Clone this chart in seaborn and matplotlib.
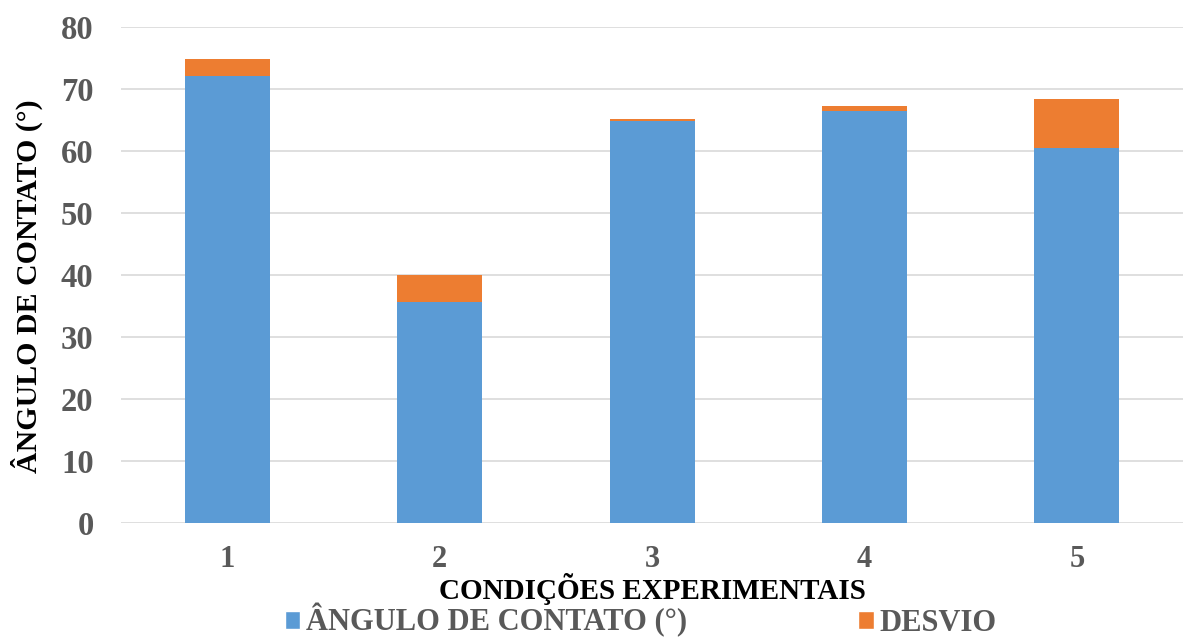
import matplotlib
matplotlib.use("Agg")
import matplotlib.pyplot as plt
import seaborn as sns
import pandas as pd
from matplotlib.patches import Patch

# Contact angle per experimental condition and its deviation
condicoes = ["1", "2", "3", "4", "5"]
angulo = [72.1, 35.6, 64.8, 66.5, 60.5]
desvio = [2.7, 4.4, 0.3, 0.8, 7.9]
yticks = [0, 10, 20, 30, 40, 50, 60, 70, 80]

AZUL = "#5B9BD5"
LARANJA = "#ED7D31"
CINZA = "#595959"

sns.set_theme(style="white")
plt.rcParams["font.family"] = ["Liberation Serif", "DejaVu Serif"]
plt.rcParams["font.weight"] = "bold"

df = pd.DataFrame({
    "cond": condicoes,
    "angulo": angulo,
    "total": [a + d for a, d in zip(angulo, desvio)],
})

fig = plt.figure(figsize=(11.89, 6.39), dpi=100)
ax = fig.add_axes([0.102, 0.1815, 0.893, 0.7765])

# stacked bars: full height in orange, angle part in blue on top of it
sns.barplot(data=df, x="cond", y="total", color=LARANJA, width=0.4,
            saturation=1, ax=ax, zorder=3)
sns.barplot(data=df, x="cond", y="angulo", color=AZUL, width=0.4,
            saturation=1, ax=ax, zorder=4)
for p in ax.patches:
    p.set_edgecolor("none")

ax.set_ylim(0, 80)
ax.set_xlim(-0.5, 4.5)
ax.set_yticks(yticks)
ax.yaxis.grid(True, color="#d9d9d9", linewidth=1.2, zorder=0)
ax.xaxis.grid(False)
for s in ax.spines.values():
    s.set_visible(False)
ax.tick_params(axis="both", length=0, colors=CINZA)
ax.tick_params(axis="y", pad=20, labelsize=23.5)
ax.tick_params(axis="x", pad=16, labelsize=22)
for lbl in ax.get_xticklabels() + ax.get_yticklabels():
    lbl.set_fontweight("bold")

ax.set_xlabel("CONDIÇÕES EXPERIMENTAIS", fontsize=21, fontweight="bold",
              color="black", labelpad=0)
ax.set_ylabel("ÂNGULO DE CONTATO (°)", fontsize=21.5, fontweight="bold",
              color="black", labelpad=4)
ax.xaxis.set_label_coords(0.5, -0.101)
ax.yaxis.set_label_coords(-0.074, 0.478)

handles = [Patch(facecolor=AZUL, label="ÂNGULO DE CONTATO (°)"),
           Patch(facecolor=LARANJA, label="DESVIO")]
leg = fig.legend(handles=handles, loc="lower center", ncol=2, frameon=False,
                 bbox_to_anchor=(0.539, -0.041), fontsize=22,
                 handlelength=0.5, handleheight=0.5, handletextpad=0.2,
                 columnspacing=5.6)
for t in leg.get_texts():
    t.set_color(CINZA)
    t.set_fontweight("bold")

fig.savefig("out.png", dpi=100)
